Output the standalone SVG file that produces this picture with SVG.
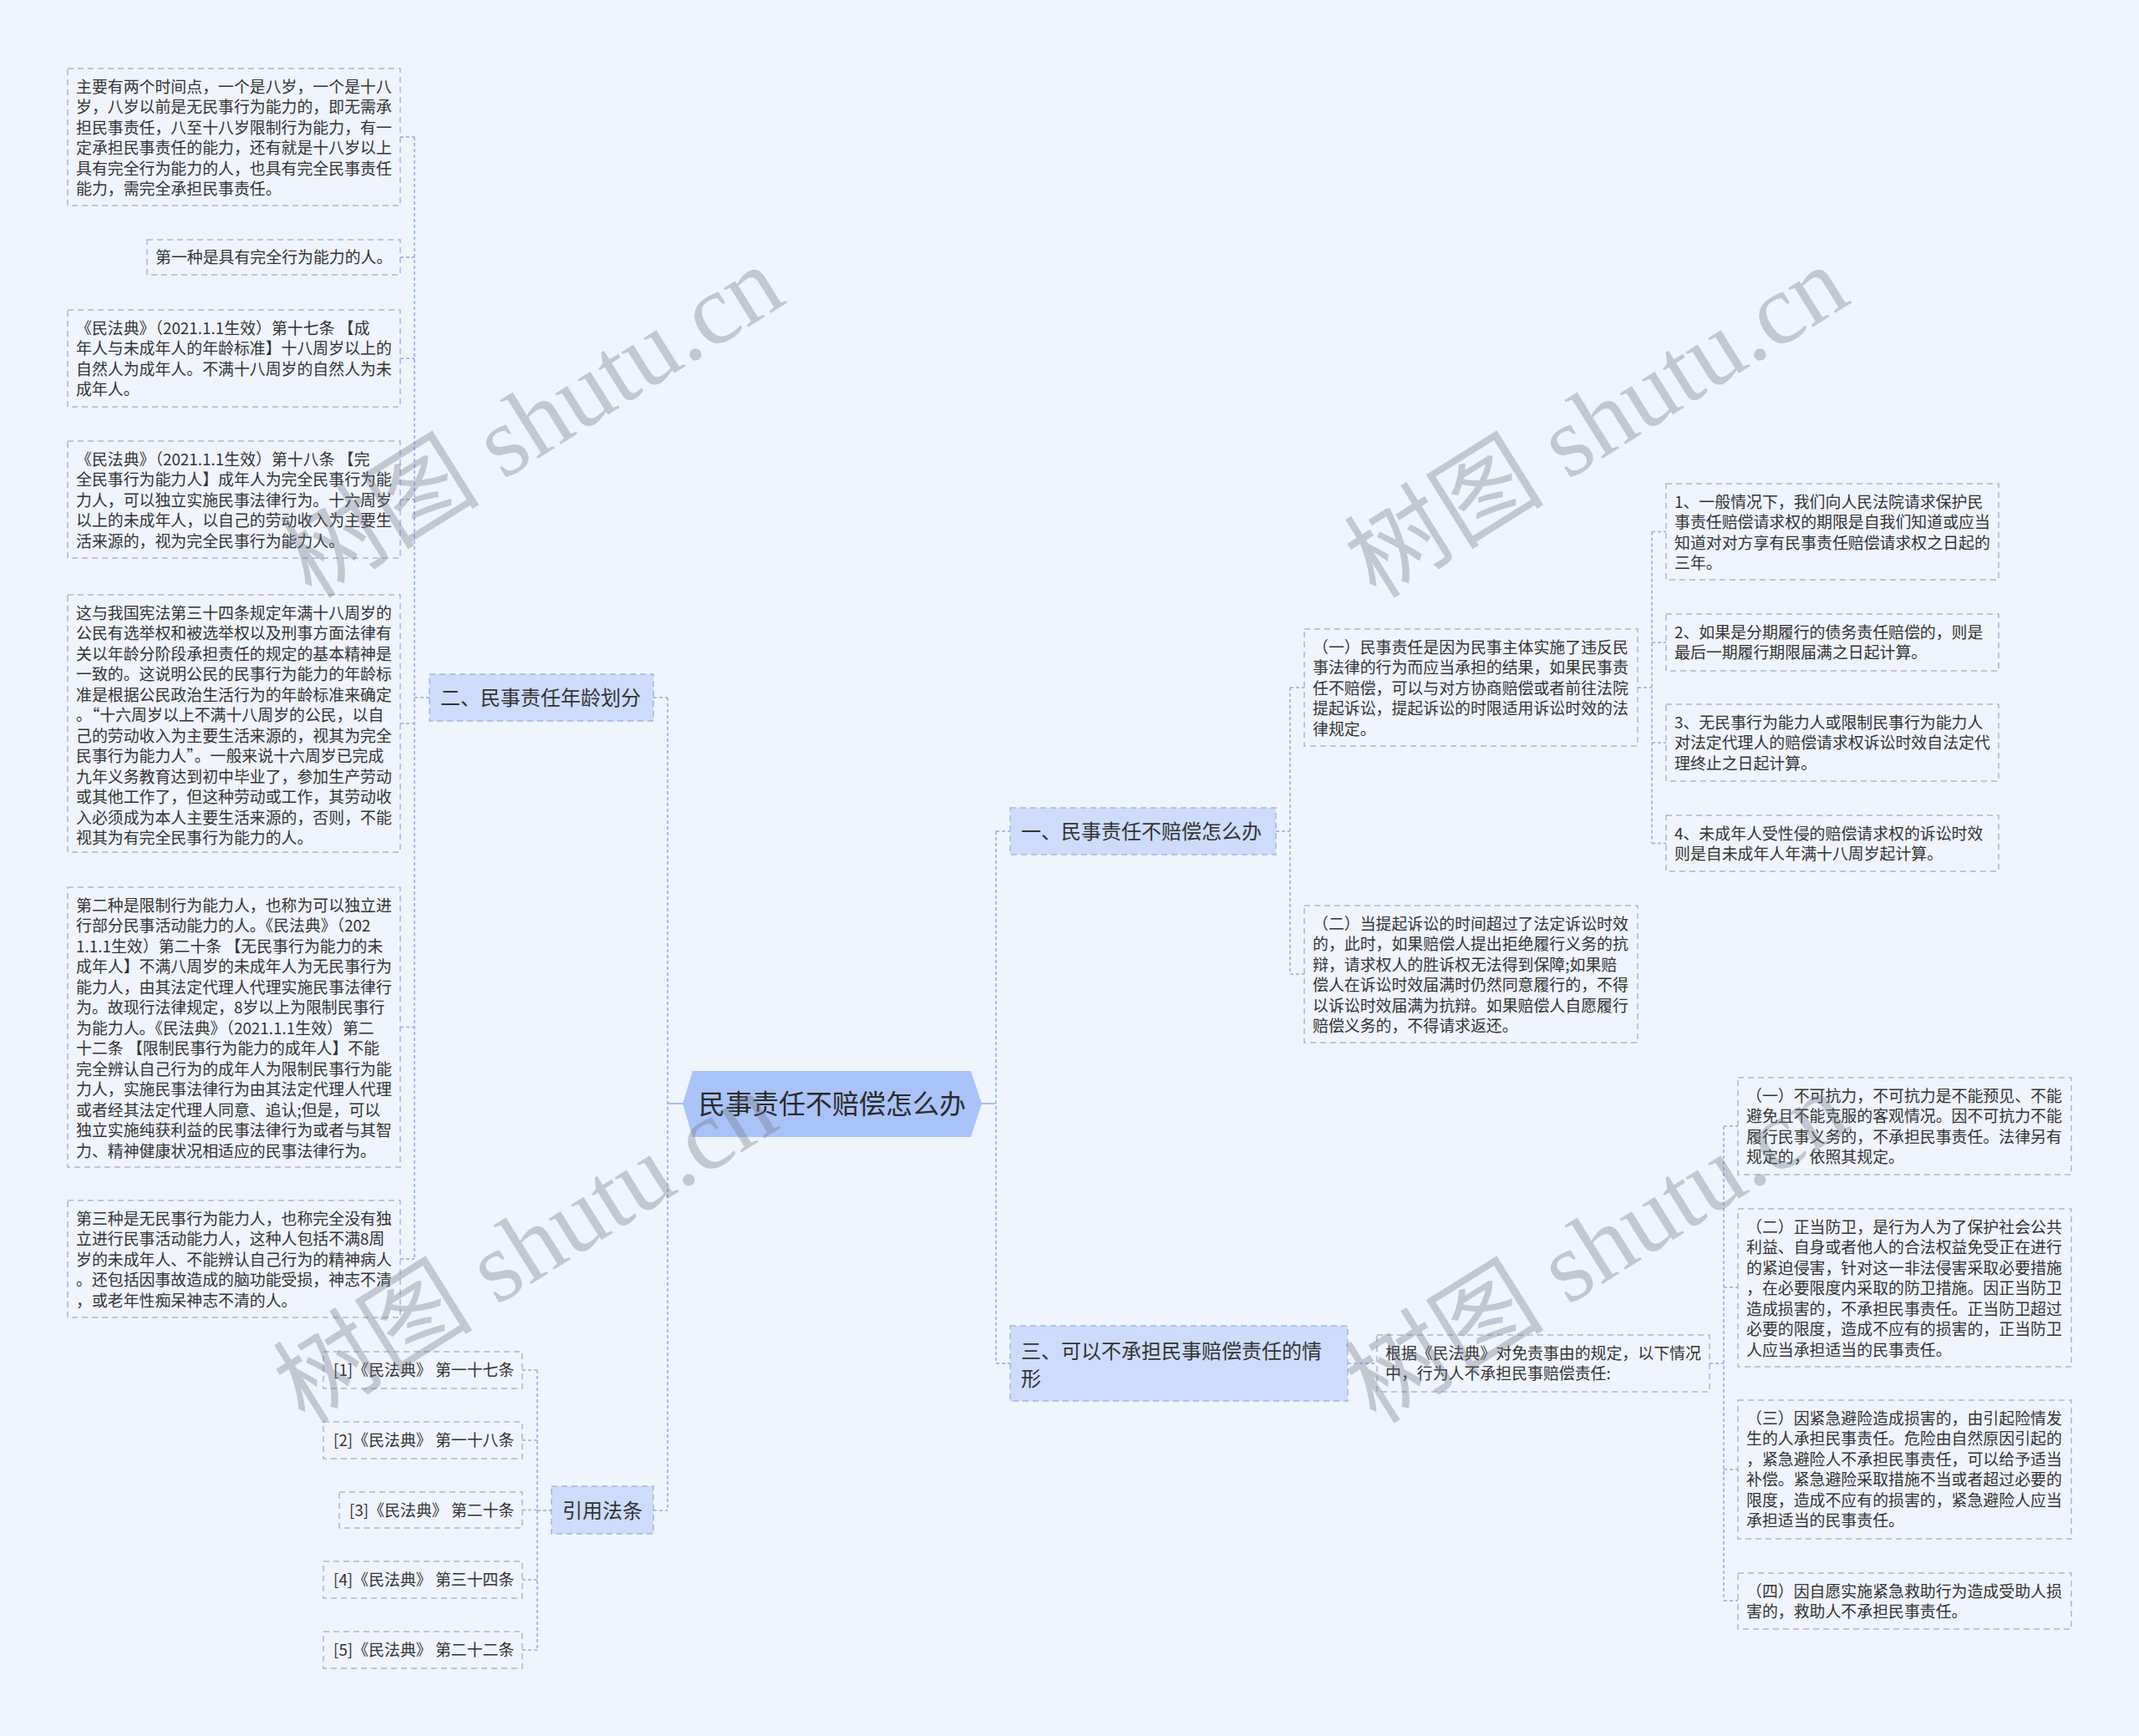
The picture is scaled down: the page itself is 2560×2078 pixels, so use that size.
<svg xmlns="http://www.w3.org/2000/svg" width="2560" height="2078" viewBox="0 0 2560 2078">
<style>
.bg{fill:#eff4fd}
.box{fill:none;stroke:#a9b7d8;stroke-width:1.5;stroke-dasharray:7 5}
.node{fill:#cddcfb;stroke:#a3b6de;stroke-width:1.5;stroke-dasharray:7 5}
.hex{fill:#a9c3f8}
.t{font-family:"Noto Sans CJK SC","Microsoft YaHei",sans-serif;font-size:18.9px;fill:#333}
.m{font-family:"Noto Sans CJK SC","Microsoft YaHei",sans-serif;font-size:24px;fill:#333}
.c{font-family:"Noto Sans CJK SC","Microsoft YaHei",sans-serif;font-size:32px;fill:#2a2a2a}
.ln{fill:none;stroke:#a7bdec;stroke-width:2;stroke-dasharray:4 3}
.sl{fill:none;stroke:#a7bdec;stroke-width:2}
.wm{font-family:"Liberation Serif","Noto Sans CJK SC",serif;font-size:120px;fill:#6f7680;opacity:0.35}
</style>
<rect class="bg" x="0" y="0" width="2560" height="2078"/>

<g id="connectors">
  <path class="ln" d="M479 164H496M479 308H496M479 429H496M479 598H496M479 866H496M479 1229.5H496M479 1507H496M496 164V1507M496 835H514"/>
  <path class="ln" d="M625 1640H643M625 1724H643M625 1807.5H643M625 1891H643M625 1975H643M643 1640V1975M643 1808H660"/>
  <path class="ln" d="M782 835H799M782 1808H799M799 835V1808"/>
  <path class="sl" d="M799 1321H817M1175 1321H1192"/>
  <path class="ln" d="M1192 995V1632M1192 995H1209M1192 1632H1209"/>
  <path class="ln" d="M1527 995H1544M1544 823V1166M1544 823H1561M1544 1166H1561"/>
  <path class="ln" d="M1960 823H1977M1977 636.5V1009.5M1977 636.5H1994M1977 769H1994M1977 889H1994M1977 1009.5H1994"/>
  <path class="ln" d="M1613 1632H1648M2046 1632H2063M2063 1348V1916M2063 1348H2080M2063 1541H2080M2063 1759H2080M2063 1916H2080"/>
</g>

<g id="center">
  <polygon class="hex" points="817,1321 829,1282 1162,1282 1175,1321 1162,1361 829,1361"/>
  <text class="c" x="996" y="1333" text-anchor="middle">民事责任不赔偿怎么办</text>
</g>

<g id="n-two">
  <rect class="node" x="514" y="807" width="268" height="56"/>
  <text class="m" x="527" y="844">二、民事责任年龄划分</text>
</g>

<g id="n-ref">
  <rect class="node" x="660" y="1779" width="122" height="57"/>
  <text class="m" x="673" y="1817">引用法条</text>
</g>

<g id="n-one">
  <rect class="node" x="1209" y="967" width="318" height="56"/>
  <text class="m" x="1222" y="1004">一、民事责任不赔偿怎么办</text>
</g>

<g id="n-three">
  <rect class="node" x="1209" y="1587" width="404" height="90"/>
  <text class="m"><tspan x="1222" y="1626">三、可以不承担民事赔偿责任的情</tspan><tspan x="1222" y="1659">形</tspan></text>
</g>

<g id="a1">
  <rect class="box" x="81" y="82" width="398" height="164"/>
  <text class="t"><tspan x="91" y="110.5">主要有两个时间点，一个是八岁，一个是十八</tspan><tspan x="91" y="135">岁，八岁以前是无民事行为能力的，即无需承</tspan><tspan x="91" y="159.5">担民事责任，八至十八岁限制行为能力，有一</tspan><tspan x="91" y="184">定承担民事责任的能力，还有就是十八岁以上</tspan><tspan x="91" y="208.5">具有完全行为能力的人，也具有完全民事责任</tspan><tspan x="91" y="233">能力，需完全承担民事责任。</tspan></text>
</g>

<g id="a2">
  <rect class="box" x="176" y="287" width="303" height="42"/>
  <text class="t" x="186" y="315">第一种是具有完全行为能力的人。</text>
</g>

<g id="a3">
  <rect class="box" x="81" y="371" width="398" height="116"/>
  <text class="t"><tspan x="91" y="399.5">《民法典》（2021.1.1生效）第十七条 【成</tspan><tspan x="91" y="424">年人与未成年人的年龄标准】十八周岁以上的</tspan><tspan x="91" y="448.5">自然人为成年人。不满十八周岁的自然人为未</tspan><tspan x="91" y="473">成年人。</tspan></text>
</g>

<g id="a4">
  <rect class="box" x="81" y="528" width="398" height="140"/>
  <text class="t"><tspan x="91" y="556.5">《民法典》（2021.1.1生效）第十八条 【完</tspan><tspan x="91" y="581">全民事行为能力人】成年人为完全民事行为能</tspan><tspan x="91" y="605.5">力人，可以独立实施民事法律行为。十六周岁</tspan><tspan x="91" y="630">以上的未成年人，以自己的劳动收入为主要生</tspan><tspan x="91" y="654.5">活来源的，视为完全民事行为能力人。</tspan></text>
</g>

<g id="a5">
  <rect class="box" x="81" y="712" width="398" height="308"/>
  <text class="t"><tspan x="91" y="740.5">这与我国宪法第三十四条规定年满十八周岁的</tspan><tspan x="91" y="765">公民有选举权和被选举权以及刑事方面法律有</tspan><tspan x="91" y="789.5">关以年龄分阶段承担责任的规定的基本精神是</tspan><tspan x="91" y="814">一致的。这说明公民的民事行为能力的年龄标</tspan><tspan x="91" y="838.5">准是根据公民政治生活行为的年龄标准来确定</tspan><tspan x="91" y="863">。“十六周岁以上不满十八周岁的公民，以自</tspan><tspan x="91" y="887.5">己的劳动收入为主要生活来源的，视其为完全</tspan><tspan x="91" y="912">民事行为能力人”。一般来说十六周岁已完成</tspan><tspan x="91" y="936.5">九年义务教育达到初中毕业了，参加生产劳动</tspan><tspan x="91" y="961">或其他工作了，但这种劳动或工作，其劳动收</tspan><tspan x="91" y="985.5">入必须成为本人主要生活来源的，否则，不能</tspan><tspan x="91" y="1010">视其为有完全民事行为能力的人。</tspan></text>
</g>

<g id="a6">
  <rect class="box" x="81" y="1062" width="398" height="335"/>
  <text class="t"><tspan x="91" y="1090.5">第二种是限制行为能力人，也称为可以独立进</tspan><tspan x="91" y="1115">行部分民事活动能力的人。《民法典》（202</tspan><tspan x="91" y="1139.5">1.1.1生效）第二十条 【无民事行为能力的未</tspan><tspan x="91" y="1164">成年人】不满八周岁的未成年人为无民事行为</tspan><tspan x="91" y="1188.5">能力人，由其法定代理人代理实施民事法律行</tspan><tspan x="91" y="1213">为。故现行法律规定，8岁以上为限制民事行</tspan><tspan x="91" y="1237.5">为能力人。《民法典》（2021.1.1生效）第二</tspan><tspan x="91" y="1262">十二条 【限制民事行为能力的成年人】不能</tspan><tspan x="91" y="1286.5">完全辨认自己行为的成年人为限制民事行为能</tspan><tspan x="91" y="1311">力人，实施民事法律行为由其法定代理人代理</tspan><tspan x="91" y="1335.5">或者经其法定代理人同意、追认;但是，可以</tspan><tspan x="91" y="1360">独立实施纯获利益的民事法律行为或者与其智</tspan><tspan x="91" y="1384.5">力、精神健康状况相适应的民事法律行为。</tspan></text>
</g>

<g id="a7">
  <rect class="box" x="81" y="1437" width="398" height="140"/>
  <text class="t"><tspan x="91" y="1465.5">第三种是无民事行为能力人，也称完全没有独</tspan><tspan x="91" y="1490">立进行民事活动能力人，这种人包括不满8周</tspan><tspan x="91" y="1514.5">岁的未成年人、不能辨认自己行为的精神病人</tspan><tspan x="91" y="1539">。还包括因事故造成的脑功能受损，神志不清</tspan><tspan x="91" y="1563.5">，或老年性痴呆神志不清的人。</tspan></text>
</g>

<g id="r1">
  <rect class="box" x="387" y="1618" width="238" height="44"/>
  <text class="t" x="399" y="1647">[1]《民法典》 第一十七条</text>
</g>
<g id="r2">
  <rect class="box" x="387" y="1702" width="238" height="44"/>
  <text class="t" x="399" y="1731">[2]《民法典》 第一十八条</text>
</g>
<g id="r3">
  <rect class="box" x="406" y="1786" width="219" height="43"/>
  <text class="t" x="418" y="1814.5">[3]《民法典》 第二十条</text>
</g>
<g id="r4">
  <rect class="box" x="387" y="1869" width="238" height="44"/>
  <text class="t" x="399" y="1898">[4]《民法典》 第三十四条</text>
</g>
<g id="r5">
  <rect class="box" x="387" y="1953" width="238" height="44"/>
  <text class="t" x="399" y="1982">[5]《民法典》 第二十二条</text>
</g>

<g id="b1">
  <rect class="box" x="1561" y="753" width="399" height="140"/>
  <text class="t"><tspan x="1571" y="781.5">（一）民事责任是因为民事主体实施了违反民</tspan><tspan x="1571" y="806">事法律的行为而应当承担的结果，如果民事责</tspan><tspan x="1571" y="830.5">任不赔偿，可以与对方协商赔偿或者前往法院</tspan><tspan x="1571" y="855">提起诉讼，提起诉讼的时限适用诉讼时效的法</tspan><tspan x="1571" y="879.5">律规定。</tspan></text>
</g>

<g id="b2">
  <rect class="box" x="1561" y="1084" width="399" height="164"/>
  <text class="t"><tspan x="1571" y="1112.5">（二）当提起诉讼的时间超过了法定诉讼时效</tspan><tspan x="1571" y="1137">的，此时，如果赔偿人提出拒绝履行义务的抗</tspan><tspan x="1571" y="1161.5">辩，请求权人的胜诉权无法得到保障;如果赔</tspan><tspan x="1571" y="1186">偿人在诉讼时效届满时仍然同意履行的，不得</tspan><tspan x="1571" y="1210.5">以诉讼时效届满为抗辩。如果赔偿人自愿履行</tspan><tspan x="1571" y="1235">赔偿义务的，不得请求返还。</tspan></text>
</g>

<g id="k1">
  <rect class="box" x="1994" y="579" width="398" height="115"/>
  <text class="t"><tspan x="2004" y="607.5">1、一般情况下，我们向人民法院请求保护民</tspan><tspan x="2004" y="632">事责任赔偿请求权的期限是自我们知道或应当</tspan><tspan x="2004" y="656.5">知道对对方享有民事责任赔偿请求权之日起的</tspan><tspan x="2004" y="681">三年。</tspan></text>
</g>
<g id="k2">
  <rect class="box" x="1994" y="735" width="398" height="68"/>
  <text class="t"><tspan x="2004" y="763.5">2、如果是分期履行的债务责任赔偿的，则是</tspan><tspan x="2004" y="788">最后一期履行期限届满之日起计算。</tspan></text>
</g>
<g id="k3">
  <rect class="box" x="1994" y="843" width="398" height="92"/>
  <text class="t"><tspan x="2004" y="871.5">3、无民事行为能力人或限制民事行为能力人</tspan><tspan x="2004" y="896">对法定代理人的赔偿请求权诉讼时效自法定代</tspan><tspan x="2004" y="920.5">理终止之日起计算。</tspan></text>
</g>
<g id="k4">
  <rect class="box" x="1994" y="976" width="398" height="67"/>
  <text class="t"><tspan x="2004" y="1004.5">4、未成年人受性侵的赔偿请求权的诉讼时效</tspan><tspan x="2004" y="1029">则是自未成年人年满十八周岁起计算。</tspan></text>
</g>

<g id="c0">
  <rect class="box" x="1648" y="1598" width="398" height="68"/>
  <text class="t"><tspan x="1658" y="1626.5">根据《民法典》对免责事由的规定，以下情况</tspan><tspan x="1658" y="1651">中，行为人不承担民事赔偿责任:</tspan></text>
</g>

<g id="d1">
  <rect class="box" x="2080" y="1290" width="399" height="116"/>
  <text class="t"><tspan x="2090" y="1318.5">（一）不可抗力，不可抗力是不能预见、不能</tspan><tspan x="2090" y="1343">避免且不能克服的客观情况。因不可抗力不能</tspan><tspan x="2090" y="1367.5">履行民事义务的，不承担民事责任。法律另有</tspan><tspan x="2090" y="1392">规定的，依照其规定。</tspan></text>
</g>
<g id="d2">
  <rect class="box" x="2080" y="1447" width="399" height="189"/>
  <text class="t"><tspan x="2090" y="1475.5">（二）正当防卫，是行为人为了保护社会公共</tspan><tspan x="2090" y="1500">利益、自身或者他人的合法权益免受正在进行</tspan><tspan x="2090" y="1524.5">的紧迫侵害，针对这一非法侵害采取必要措施</tspan><tspan x="2090" y="1549">，在必要限度内采取的防卫措施。因正当防卫</tspan><tspan x="2090" y="1573.5">造成损害的，不承担民事责任。正当防卫超过</tspan><tspan x="2090" y="1598">必要的限度，造成不应有的损害的，正当防卫</tspan><tspan x="2090" y="1622.5">人应当承担适当的民事责任。</tspan></text>
</g>
<g id="d3">
  <rect class="box" x="2080" y="1676" width="399" height="166"/>
  <text class="t"><tspan x="2090" y="1704.5">（三）因紧急避险造成损害的，由引起险情发</tspan><tspan x="2090" y="1729">生的人承担民事责任。危险由自然原因引起的</tspan><tspan x="2090" y="1753.5">，紧急避险人不承担民事责任，可以给予适当</tspan><tspan x="2090" y="1778">补偿。紧急避险采取措施不当或者超过必要的</tspan><tspan x="2090" y="1802.5">限度，造成不应有的损害的，紧急避险人应当</tspan><tspan x="2090" y="1827">承担适当的民事责任。</tspan></text>
</g>
<g id="d4">
  <rect class="box" x="2080" y="1883" width="399" height="67"/>
  <text class="t"><tspan x="2090" y="1911.5">（四）因自愿实施紧急救助行为造成受助人损</tspan><tspan x="2090" y="1936">害的，救助人不承担民事责任。</tspan></text>
</g>

<g id="watermarks">
  <text class="wm" transform="translate(373,718) rotate(-32)">树图 shutu.cn</text>
  <text class="wm" transform="translate(1647,718) rotate(-32)">树图 shutu.cn</text>
  <text class="wm" transform="translate(365,1706) rotate(-32)">树图 shutu.cn</text>
  <text class="wm" transform="translate(1647,1706) rotate(-32)">树图 shutu.cn</text>
</g>
</svg>
